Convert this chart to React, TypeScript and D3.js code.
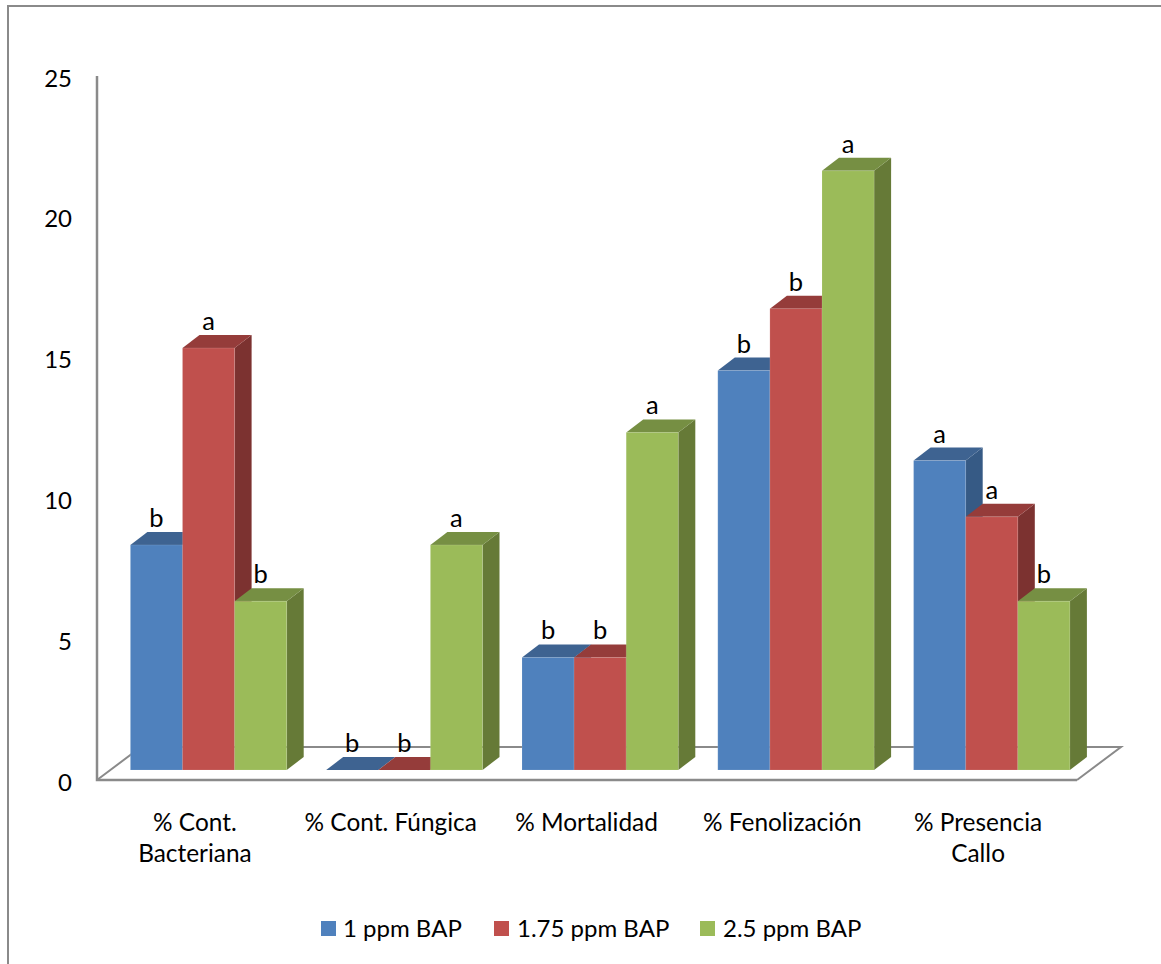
import React from "react";
import * as d3 from "d3";

// Treatment series and their per-category values (percent)
const categories = [
  ["% Cont.", "Bacteriana"],
  ["% Cont. Fúngica"],
  ["% Mortalidad"],
  ["% Fenolización"],
  ["% Presencia", "Callo"],
];
const seriesNames = ["1 ppm BAP", "1.75 ppm BAP", "2.5 ppm BAP"];
const valuesLow = [8, 0, 4, 14.2, 11];
const valuesMid = [15, 0, 4, 16.4, 9];
const valuesHigh = [6, 8, 12, 21.3, 6];
const lettersLow = ["b", "b", "b", "b", "a"];
const lettersMid = ["a", "b", "b", "b", "a"];
const lettersHigh = ["b", "a", "a", "a", "b"];
const yTicks = [0, 5, 10, 15, 20, 25];

const frontFaces = ["#4f81bd", "#c0504d", "#9bbb59"];
const topFaces = ["#3e6391", "#953c3a", "#768f43"];
const sideFaces = ["#365a85", "#7c3230", "#667a37"];

const FONT = "Lato, 'Open Sans', sans-serif";
const AXIS = "#8a8a8a";

const WIDTH = 1161;
const HEIGHT = 964;
// Oblique offsets of the 3D projection
const floorDx = 44;
const floorDy = 33;
const barDx = 17;
const barDy = 13;

export default function App() {
  const x = d3
    .scaleBand<number>()
    .domain(d3.range(categories.length))
    .range([97, 1076]);
  const axisY = d3.scaleLinear().domain([0, 25]).range([780, 76]);
  const barY = d3.scaleLinear().domain([0, 25]).range([770, 66.7]);
  const barWidth = 52.1;
  const groupStart = 33.4;

  const series = [
    { values: valuesLow, letters: lettersLow },
    { values: valuesMid, letters: lettersMid },
    { values: valuesHigh, letters: lettersHigh },
  ];

  const poly = (pts: [number, number][]) =>
    d3.line()(pts.concat([pts[0]])) as string;

  const legendSwatch = [321, 494, 700];
  const legendText = [343, 517, 723];

  return (
    <svg
      width={WIDTH}
      height={HEIGHT}
      style={{ position: "absolute", left: 0, top: 0, background: "#fff" }}
      fontFamily={FONT}
    >
      {/* Chart area border */}
      <path d={`M8,964V6H1161`} fill="none" stroke={AXIS} strokeWidth={2} />

      {/* Floor and value axis */}
      <path
        d={`M97,780L${97 + floorDx},${780 - floorDy}H${1077 + floorDx}L1077,780`}
        fill="none"
        stroke={AXIS}
        strokeWidth={2}
      />
      <path d={`M97,76V780H1077`} fill="none" stroke={AXIS} strokeWidth={2.5} />

      {yTicks.map((t) => (
        <text key={t} x={72} y={axisY(t) + 10.5} textAnchor="end" fontSize={24} fill="#000">
          {t}
        </text>
      ))}

      {/* Bars, painted left to right so each one covers its neighbour's side */}
      {categories.map((_, c) =>
        series.map((s, k) => {
          const x0 = (x(c) as number) + groupStart + k * barWidth;
          const x1 = x0 + barWidth;
          const yTop = barY(s.values[c]);
          const yBase = barY(0);
          const height = yBase - yTop;
          return (
            <g key={`${c}-${k}`}>
              {height > 0 && (
                <path
                  d={poly([
                    [x1, yTop],
                    [x1 + barDx, yTop - barDy],
                    [x1 + barDx, yBase - barDy],
                    [x1, yBase],
                  ])}
                  fill={sideFaces[k]}
                />
              )}
              <path
                d={poly([
                  [x0, yTop],
                  [x0 + barDx, yTop - barDy],
                  [x1 + barDx, yTop - barDy],
                  [x1, yTop],
                ])}
                fill={topFaces[k]}
              />
              {height > 0 && (
                <rect
                  x={x0}
                  y={yTop}
                  width={barWidth}
                  height={height}
                  fill={frontFaces[k]}
                  stroke="#ffffff"
                  strokeOpacity={0.12}
                  strokeWidth={1}
                />
              )}
            </g>
          );
        })
      )}

      {/* Significance letters above each bar */}
      {categories.map((_, c) =>
        series.map((s, k) => (
          <text
            key={`${c}-${k}`}
            x={(x(c) as number) + groupStart + k * barWidth + barWidth / 2}
            y={barY(s.values[c]) - 18}
            textAnchor="middle"
            fontSize={25.5}
            fill="#000"
          >
            {s.letters[c]}
          </text>
        ))
      )}

      {/* Category labels */}
      {categories.map((lines, c) =>
        lines.map((line, i) => (
          <text
            key={line}
            x={(x(c) as number) + x.bandwidth() / 2}
            y={831 + i * 31}
            textAnchor="middle"
            fontSize={24.4}
            fill="#000"
          >
            {line}
          </text>
        ))
      )}

      {/* Legend */}
      {seriesNames.map((name, k) => (
        <g key={name}>
          <rect x={legendSwatch[k]} y={921} width={15} height={15} fill={frontFaces[k]} />
          <text x={legendText[k]} y={937} fontSize={24} fill="#000">
            {name}
          </text>
        </g>
      ))}
    </svg>
  );
}
